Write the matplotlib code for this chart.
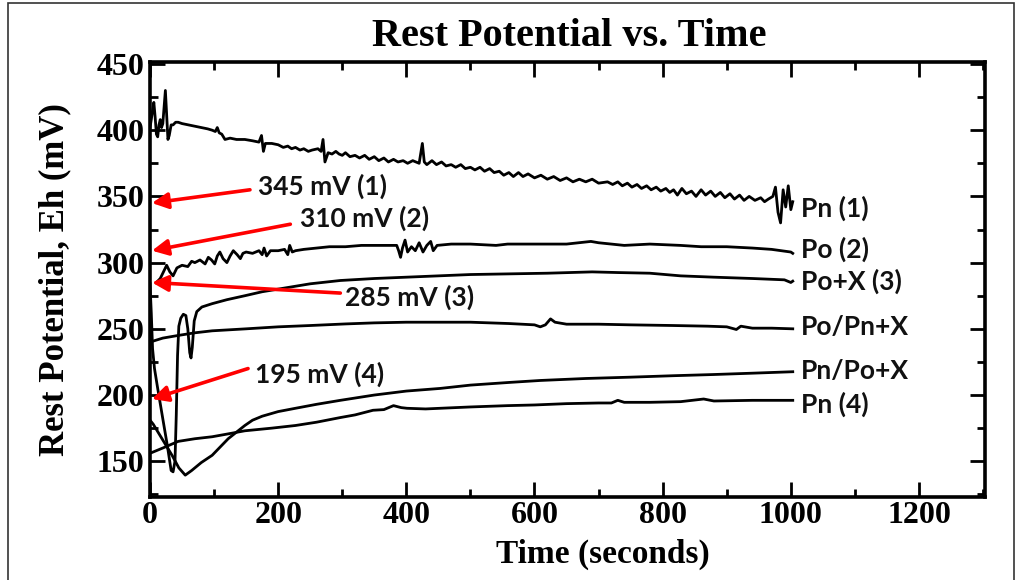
import matplotlib
matplotlib.use('Agg')
import matplotlib.pyplot as plt
from matplotlib.patches import Rectangle
from matplotlib.ticker import MultipleLocator

# ---- data (time in s, potential in mV) ----
pn1_t = [0, 2, 4, 6, 8, 10, 12, 14, 16, 18, 20, 22, 24, 26, 28, 30, 33, 36, 40, 44,
         50, 60, 70, 80, 90, 97, 102, 105, 108, 112, 117, 125, 135, 148, 160, 170, 174,
         177, 180, 190, 200, 208, 215, 221, 227, 234, 240, 247, 253, 262, 267, 270, 273, 278,
         284, 290, 295, 300, 305, 312, 320, 327, 335, 342, 350, 357, 365, 372, 380, 387, 395,
         402, 410, 420, 425, 428, 432, 440, 447, 455, 462, 470, 477, 485, 492, 500, 507, 515,
         522, 530, 537, 545, 552, 560, 567, 575, 582, 590, 600, 610, 620, 630, 640, 650, 660,
         670, 680, 690, 700, 714, 722, 730, 737, 745, 752, 760, 767, 775, 782, 790, 797, 805,
         811, 817, 823, 830, 837, 845, 852, 860, 867, 875, 882, 890, 897, 905, 912, 920, 927,
         935, 944, 953, 959, 965, 972, 976, 980, 984, 988, 992, 996, 1000, 1003]
pn1_v = [402, 408, 415, 421, 410, 397, 395, 404, 408, 402, 405, 418, 430, 412, 393, 396, 404, 404, 406, 406,
         405, 404, 403, 402, 401, 400, 399, 402, 398, 397, 393, 394, 393, 393, 392, 391, 396,
         384, 390, 390, 389, 387, 388, 386, 387, 385, 386, 384, 385, 386, 384, 393, 376, 383,
         382, 384, 382, 381, 383, 380, 381, 379, 381, 378, 380, 377, 379, 376, 378, 376, 377,
         375, 377, 375, 390, 376, 374, 377, 374, 376, 373, 374, 372, 374, 371, 372, 370, 372,
         369, 371, 368, 369, 366, 368, 365, 368, 365, 367, 364, 366, 363, 365, 362, 364, 361,
         363, 361, 363, 360, 361, 359, 361, 358, 360, 357, 359, 356, 358, 355, 357, 354, 356,
         353, 355, 351, 356, 352, 354, 350, 355, 351, 354, 350, 353, 349, 352, 348, 351, 347,
         350, 347, 349, 346, 348, 350, 357, 338, 330, 355, 342, 358, 340, 346]

po2_t = [10, 16, 20, 26, 31, 36, 42, 50, 59, 65, 70, 78, 86, 91, 96, 101, 105, 109, 114, 120,
         125, 130, 136, 141, 145, 150, 160, 170, 175, 178, 182, 188, 200, 210, 215, 218, 222,
         227, 240, 260, 280, 305, 330, 360, 385, 388, 391, 394, 398, 402, 408, 414, 420, 426,
         432, 438, 442, 448, 470, 500, 540, 558, 600, 650, 688, 700, 740, 780, 828, 860, 900,
         940, 970, 1000, 1003]
po2_v = [285, 288, 292, 298, 293, 290, 296, 298, 297, 301, 300, 302, 299, 304, 302, 299, 305, 308, 303, 300,
         305, 309, 306, 303, 307, 308, 307, 309, 306, 311, 305, 309, 309, 310, 306, 313, 308,
         309, 310, 311, 312, 312, 313, 313, 313, 309, 304, 311, 317, 308, 312, 309, 315, 308,
         313, 316, 309, 313, 314, 314, 313, 314, 314, 314, 316, 315, 313, 314, 313, 312, 312,
         311, 310, 308, 307]

pox3_t = [0, 2, 4, 7, 12, 20, 27, 33, 36, 39, 41, 43, 45, 48, 52, 56, 59, 62, 64, 66, 69, 73,
          81, 97, 120, 148, 175, 200, 250, 297, 350, 400, 450, 500, 560, 620, 690, 730, 780,
          828, 880, 940, 990, 1000, 1003]
pox3_v = [284, 262, 235, 220, 205, 182, 162, 143, 142, 150, 185, 230, 252, 258, 261, 260, 250, 232, 228, 236, 256, 263,
          266.5, 269, 272, 275, 278, 280, 284, 286.5, 288, 289, 290, 291, 291.5, 292, 293, 292.5, 292,
          290, 289, 288, 287, 285, 286]

popnx_t = [0, 10, 20, 44, 70, 97, 150, 200, 250, 305, 350, 400, 453, 500, 560, 600, 609, 617,
           625, 632, 650, 700, 750, 817, 870, 900, 915, 922, 940, 970, 1003]
popnx_v = [240, 241.5, 243, 245, 247, 248.5, 250, 251.5, 252.5, 253.7, 254.5, 255, 255, 255, 254, 253, 251.5, 253,
           257.5, 255, 253.5, 253.5, 253, 252.5, 252, 251.5, 249.5, 252, 250.5, 250.5, 250]

pnpox_t = [0, 5, 15, 25, 35, 45, 55, 65, 80, 97, 110, 122, 135, 148, 160, 175, 200, 227, 260,
           297, 350, 400, 453, 500, 560, 609, 680, 750, 817, 880, 940, 1003]
pnpox_v = [181, 178, 170, 162, 154, 145, 139.5, 143, 149, 154.5, 161, 167, 172, 177, 181, 184, 187.5, 190, 193,
           196, 200, 203, 205, 207.5, 209.5, 211, 212.5, 213.5, 214.6, 215.5, 216.5, 217.6]

pn4_t = [0, 10, 20, 44, 70, 97, 120, 148, 190, 227, 260, 297, 320, 348, 365, 380, 392, 401,
         430, 453, 500, 558, 600, 650, 700, 720, 730, 740, 780, 828, 864, 880, 940, 1003]
pn4_v = [156, 158, 160, 165, 167, 168.5, 170.5, 173, 175, 177, 179.5, 183, 185, 188.5, 189, 192, 190.5, 190,
         189.5, 190, 191, 192, 192.5, 193.5, 194, 194, 196, 194.5, 194.5, 195, 197, 195.5, 196, 196]

curve_labels = ["Pn (1)", "Po (2)", "Po+X (3)", "Po/Pn+X", "Pn/Po+X", "Pn (4)"]
curve_label_y = [341, 310, 286, 251.5, 218.4, 193]

arrow_texts = ["345 mV (1)", "310 mV (2)", "285 mV (3)", "195 mV (4)"]
arrow_tips = [345, 309, 285, 197]

serif = 'Liberation Serif'
sans = 'Lato'

fig = plt.figure(figsize=(10.21, 5.80), dpi=100)
ax = fig.add_axes([150/1021, 1 - 497/580, 835/1021, 435/580])

for t, v in [(pn1_t, pn1_v), (po2_t, po2_v), (pox3_t, pox3_v),
             (popnx_t, popnx_v), (pnpox_t, pnpox_v), (pn4_t, pn4_v)]:
    ax.plot(t, v, color='black', lw=2.0, solid_joinstyle='round')

ax.set_xlim(0, 1303)
ax.set_ylim(123, 451.5)

ax.xaxis.set_major_locator(MultipleLocator(200))
ax.xaxis.set_minor_locator(MultipleLocator(100))
ax.yaxis.set_major_locator(MultipleLocator(50))
ax.yaxis.set_minor_locator(MultipleLocator(25))
ax.tick_params(which='both', direction='in', top=True, right=True, width=2, color='black')
ax.tick_params(which='major', length=11)
ax.tick_params(which='minor', length=6)
ax.tick_params(axis='x', which='major', pad=3)
ax.tick_params(axis='y', which='major', pad=4)
ax.set_xticks([0, 200, 400, 600, 800, 1000, 1200])
ax.set_xticklabels(['0', '200', '400', '600', '800', '1000', '1200'])
for lab in ax.get_xticklabels() + ax.get_yticklabels():
    lab.set_fontfamily(serif)
    lab.set_fontweight('bold')
    lab.set_fontsize(23)
for sp in ax.spines.values():
    sp.set_linewidth(2.6)

ax.set_xlabel("Time (seconds)", fontfamily=serif, fontweight='bold', fontsize=24)
ax.xaxis.set_label_coords(0.542, -0.095)
ax.set_ylabel("Rest Potential, Eh (mV)", fontfamily=serif, fontweight='bold', fontsize=25)
ax.yaxis.set_label_coords(-0.094, 0.5)
fig.text(0.558, 0.937, "Rest Potential vs. Time", ha='center', va='center',
         fontfamily=serif, fontweight='bold', fontsize=29)

# labels at the end of each trace
for lab, y in zip(curve_labels, curve_label_y):
    ax.text(1016, y, lab, fontfamily=sans, fontweight='bold', fontsize=19,
            va='center', ha='left', color='#111111')

# red arrows with initial values
arrow_tails = [(156, 355), (219, 329), (297, 277), (153, 220)]
text_pos = [(169, 357.5), (234, 333.4), (305, 274), (164, 216)]
for txt, tip, tail, pos in zip(arrow_texts, arrow_tips, arrow_tails, text_pos):
    ax.annotate('', xy=(3, tip), xytext=tail,
                arrowprops=dict(arrowstyle='-|>', color='red', lw=2.6,
                                mutation_scale=24, shrinkA=0, shrinkB=0))
    ax.text(pos[0], pos[1], txt, fontfamily=sans, fontweight='bold', fontsize=19,
            va='center', ha='left', color='#111111')

fig.patches.append(Rectangle((8/1021, -0.01), 1006/1021, 1.01 - 3/580, transform=fig.transFigure,
                             fill=False, edgecolor='#333333', lw=1.2))

fig.savefig('out.png', dpi=100)
